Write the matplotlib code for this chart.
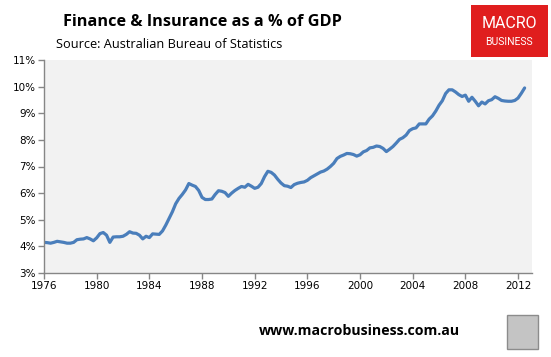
import numpy as np
import matplotlib
matplotlib.use("Agg")
import matplotlib.pyplot as plt
from matplotlib.patches import Rectangle

# quarterly share of GDP (%), starting 1976 Q1
start_year = 1976
share = [
    4.15, 4.14, 4.12, 4.15,  # 1976
    4.19, 4.17, 4.15, 4.12,
    4.12, 4.15, 4.25, 4.27,
    4.28, 4.33, 4.28, 4.21,
    4.32, 4.48, 4.52, 4.42,  # 1980
    4.15, 4.35, 4.36, 4.36,
    4.38, 4.45, 4.55, 4.50,
    4.49, 4.42, 4.28, 4.38,
    4.33, 4.47, 4.46, 4.45,  # 1984
    4.58, 4.80, 5.05, 5.30,
    5.60, 5.80, 5.95, 6.12,
    6.36, 6.30, 6.25, 6.10,
    5.84, 5.76, 5.76, 5.78,  # 1988
    5.95, 6.09, 6.07, 6.02,
    5.88, 6.00, 6.10, 6.18,
    6.25, 6.22, 6.33, 6.26,
    6.18, 6.22, 6.36, 6.62,  # 1992
    6.82, 6.78, 6.68, 6.52,
    6.38, 6.28, 6.26, 6.21,
    6.32, 6.37, 6.40, 6.42,
    6.48, 6.58, 6.65, 6.72,  # 1996
    6.79, 6.83, 6.90, 7.00,
    7.12, 7.30, 7.38, 7.43,
    7.49, 7.48, 7.45, 7.39,
    7.44, 7.55, 7.60, 7.70,  # 2000
    7.72, 7.77, 7.75, 7.68,
    7.56, 7.65, 7.75, 7.88,
    8.02, 8.08, 8.18, 8.35,
    8.42, 8.45, 8.60, 8.60,  # 2004
    8.60, 8.78, 8.90, 9.08,
    9.30, 9.47, 9.74, 9.88,
    9.88, 9.80, 9.70, 9.63,
    9.68, 9.45, 9.60, 9.45,  # 2008
    9.28, 9.42, 9.35, 9.47,
    9.51, 9.62, 9.56, 9.48,
    9.46, 9.45, 9.45, 9.48,
    9.57, 9.75, 9.95,        # 2012
]
year_ticks = list(range(1976, 2013, 4))
pct_ticks = list(range(3, 12))

years = start_year + np.arange(len(share)) / 4.0

fig = plt.figure(figsize=(5.51, 3.57), dpi=100)
ax = fig.add_axes([44 / 551, 1 - 273 / 357, 488 / 551, 213 / 357])

ax.plot(years, share, color="#4a7ebb", lw=2.3, solid_capstyle="round")

ax.set_facecolor("#f2f2f2")
ax.set_xlim(1976, 2013.06)
ax.set_ylim(3, 11)
ax.set_xticks(year_ticks)
ax.set_yticks(pct_ticks)
ax.set_yticklabels([f"{p}%" for p in pct_ticks])
for s in ["top", "right"]:
    ax.spines[s].set_visible(False)
for s in ["left", "bottom"]:
    ax.spines[s].set_color("#868686")
    ax.spines[s].set_linewidth(1.0)
ax.tick_params(axis="both", direction="out", length=4, width=1.0,
               color="#868686", labelsize=7.5, labelcolor="#000000")
ax.tick_params(axis="y", pad=2)
ax.tick_params(axis="x", pad=2)

# titles
fig.text(63 / 551, 1 - 22 / 357, "Finance & Insurance as a % of GDP",
         fontsize=11.7, fontweight="bold", family="Open Sans", va="center")
fig.text(56 / 551, 1 - 44 / 357, "Source: Australian Bureau of Statistics",
         fontsize=9.2, family="Open Sans", va="center")

# logo box
fig.patches.append(Rectangle((471 / 551, 1 - 57 / 357), 77 / 551, 52 / 357,
                             transform=fig.transFigure, facecolor="#e01e1e",
                             edgecolor="none"))
fig.text(509 / 551, 1 - 24 / 357, "MACRO", color="white", fontsize=11.5,
         family="Roboto", ha="center", va="center")
fig.text(509 / 551, 1 - 42 / 357, "BUSINESS", color="white", fontsize=7.5,
         family="Roboto", ha="center", va="center")

# footer
fig.text(460 / 551, 1 - 331 / 357, "www.macrobusiness.com.au",
         fontsize=10.2, fontweight="bold", family="Open Sans",
         ha="right", va="center")
fig.patches.append(Rectangle((507 / 551, 1 - 349 / 357), 31 / 551, 34 / 357,
                             transform=fig.transFigure, facecolor="#c4c4c4",
                             edgecolor="#8c8c8c", lw=1.0))

fig.savefig("out.png", dpi=100)
